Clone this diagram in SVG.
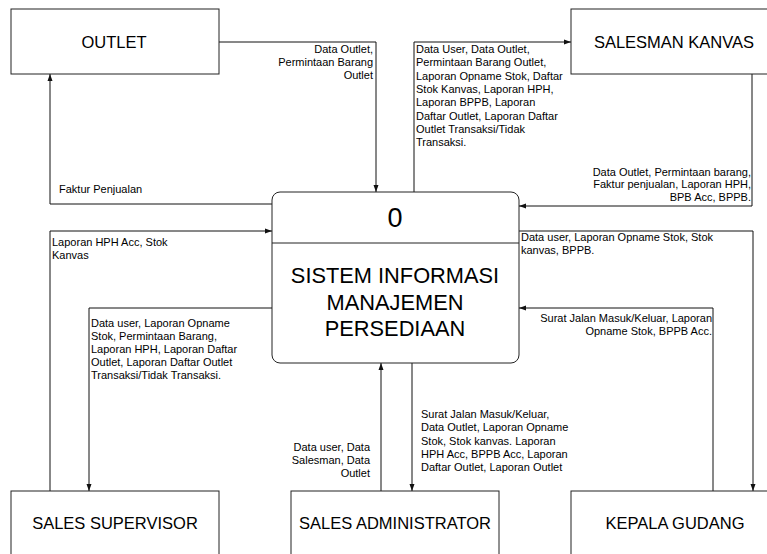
<svg xmlns="http://www.w3.org/2000/svg" width="767" height="554" viewBox="0 0 767 554">
<style>
.box{fill:#fff;stroke:#222;stroke-width:1}
.t{font-family:"Liberation Sans",Arial,sans-serif;font-size:16.5px;fill:#000;text-anchor:middle}
.p{font-family:"Liberation Sans",Arial,sans-serif;font-size:21.8px;fill:#000;text-anchor:middle}
.l{font-family:"Liberation Sans",Arial,sans-serif;font-size:11px;fill:#000}
.r{text-anchor:end}
.c{fill:none;stroke:#111;stroke-width:1;marker-end:url(#ah)}
</style>
<defs>
<marker id="ah" markerUnits="userSpaceOnUse" markerWidth="8" markerHeight="8" viewBox="0 0 8 8" refX="7" refY="4" orient="auto">
<path d="M0,1.5 L7,4 L0,6.5 Z" fill="#111"/>
</marker>
</defs>
<rect width="767" height="554" fill="#fff"/>
<g id="connectors">
<path class="c" d="M219,42 H376 V192"/>
<path class="c" d="M272,204 H50 V74"/>
<path class="c" d="M50,491 V231 H272"/>
<path class="c" d="M272,308 H89 V491"/>
<path class="c" d="M381,491 V363"/>
<path class="c" d="M412,363 V491"/>
<path class="c" d="M414,192 V42 H571"/>
<path class="c" d="M752,74 V206 H519"/>
<path class="c" d="M519,231 H753 V491"/>
<path class="c" d="M713,491 V308 H519"/>
</g>
<g id="labels">
<text class="l r"><tspan x="373" y="53">Data Outlet,</tspan><tspan x="373" y="66">Permintaan Barang</tspan><tspan x="373" y="79">Outlet</tspan></text>
<text class="l" x="59" y="193">Faktur Penjualan</text>
<text class="l"><tspan x="52" y="246">Laporan HPH Acc, Stok</tspan><tspan x="52" y="259">Kanvas</tspan></text>
<text class="l"><tspan x="91" y="327">Data user, Laporan Opname</tspan><tspan x="91" y="340">Stok, Permintaan Barang,</tspan><tspan x="91" y="353">Laporan HPH, Laporan Daftar</tspan><tspan x="91" y="366">Outlet, Laporan Daftar Outlet</tspan><tspan x="91" y="379">Transaksi/Tidak Transaksi.</tspan></text>
<text class="l"><tspan x="416" y="53">Data User, Data Outlet,</tspan><tspan x="416" y="66">Permintaan Barang Outlet,</tspan><tspan x="416" y="80">Laporan Opname Stok, Daftar</tspan><tspan x="416" y="93">Stok Kanvas, Laporan HPH,</tspan><tspan x="416" y="106">Laporan BPPB, Laporan</tspan><tspan x="416" y="120">Daftar Outlet, Laporan Daftar</tspan><tspan x="416" y="133">Outlet Transaksi/Tidak</tspan><tspan x="416" y="146">Transaksi.</tspan></text>
<text class="l r"><tspan x="751" y="176">Data Outlet, Permintaan barang,</tspan><tspan x="751" y="188">Faktur penjualan, Laporan HPH,</tspan><tspan x="751" y="201">BPB Acc, BPPB.</tspan></text>
<text class="l"><tspan x="521" y="241">Data user, Laporan Opname Stok, Stok</tspan><tspan x="521" y="254">kanvas, BPPB.</tspan></text>
<text class="l r"><tspan x="712" y="322">Surat Jalan Masuk/Keluar, Laporan</tspan><tspan x="712" y="335">Opname Stok, BPPB Acc.</tspan></text>
<text class="l r"><tspan x="370" y="451">Data user, Data</tspan><tspan x="370" y="464">Salesman, Data</tspan><tspan x="370" y="477">Outlet</tspan></text>
<text class="l"><tspan x="421" y="418">Surat Jalan Masuk/Keluar,</tspan><tspan x="421" y="431">Data Outlet, Laporan Opname</tspan><tspan x="421" y="445">Stok, Stok kanvas. Laporan</tspan><tspan x="421" y="458">HPH Acc, BPPB Acc, Laporan</tspan><tspan x="421" y="471">Daftar Outlet, Laporan Outlet</tspan></text>
</g>
<g id="outlet">
<rect class="box" x="11" y="9" width="208" height="65"/>
<text class="t" x="114" y="48">OUTLET</text>
</g>
<g id="salesman-kanvas">
<rect class="box" x="571" y="9" width="208" height="65"/>
<text class="t" x="674" y="48">SALESMAN KANVAS</text>
</g>
<g id="process">
<rect class="box" x="272" y="192" width="247" height="171" rx="8" ry="8"/>
<line x1="272" y1="243" x2="519" y2="243" stroke="#222" stroke-width="1"/>
<text class="p" x="395" y="227" style="font-size:27px">0</text>
<text class="p" x="395" y="283">SISTEM INFORMASI</text>
<text class="p" x="395" y="310">MANAJEMEN</text>
<text class="p" x="395" y="336">PERSEDIAAN</text>
</g>
<g id="sales-supervisor">
<rect class="box" x="11" y="491" width="208" height="80"/>
<text class="t" x="115" y="529">SALES SUPERVISOR</text>
</g>
<g id="sales-administrator">
<rect class="box" x="291" y="491" width="208" height="80"/>
<text class="t" x="395" y="529">SALES ADMINISTRATOR</text>
</g>
<g id="kepala-gudang">
<rect class="box" x="571" y="491" width="208" height="80"/>
<text class="t" x="675" y="529">KEPALA GUDANG</text>
</g>
</svg>
